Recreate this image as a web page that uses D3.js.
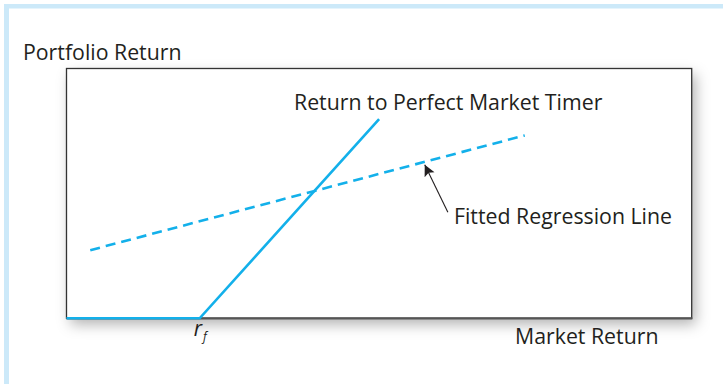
<!DOCTYPE html>
<html><head><meta charset="utf-8">
<script src="https://cdn.jsdelivr.net/npm/d3@7"></script>
<style>html,body{margin:0;padding:0;background:#fff;}svg{display:block;}</style>
</head><body>
<script>
// Data (arbitrary units: x = market return, y = portfolio return)
const riskFree = 2.13;
const perfectTimerX = [0, riskFree, 5.0];
const perfectTimerY = [0, 0, 7.98];
const regressionX = [0.38, 7.33];
const regressionY = [2.73, 7.33];
const arrowFrom = [6.1, 4.25];
const arrowTo = [5.73, 6.15];
const labels = {
  yTitle: "Portfolio Return",
  xTitle: "Market Return",
  timer: "Return to Perfect Market Timer",
  regression: "Fitted Regression Line"
};

const W = 723, H = 384;
const box = {left: 66.5, top: 68.5, right: 691.7, bottom: 318.3};
const x = d3.scaleLinear().domain([0, 10]).range([box.left, box.right]);
const y = d3.scaleLinear().domain([0, 10]).range([box.bottom, box.bottom - 249.5]);

const svg = d3.select("body").append("svg").attr("width", W).attr("height", H);
const defs = svg.append("defs");
const f = defs.append("filter").attr("id", "sh").attr("x", "-10%").attr("y", "-20%").attr("width", "130%").attr("height", "150%");
f.append("feDropShadow").attr("dx", 4).attr("dy", 6).attr("stdDeviation", 7).attr("flood-color", "#000").attr("flood-opacity", 0.3);
defs.append("marker").attr("id", "ah").attr("viewBox", "0 0 10 10").attr("refX", 10).attr("refY", 5)
  .attr("markerWidth", 15).attr("markerHeight", 11).attr("markerUnits", "userSpaceOnUse").attr("orient", "auto")
  .append("path").attr("d", "M0,0 L10,5 L0,10 L2,5 Z").attr("fill", "#231f20");

// frame bands
svg.append("rect").attr("x", 4).attr("y", 4).attr("width", W - 4).attr("height", 4.5).attr("fill", "#cce9f9");
svg.append("rect").attr("x", 4).attr("y", 4).attr("width", 5).attr("height", H - 4).attr("fill", "#cce9f9");

// plot box
svg.append("rect").attr("x", box.left).attr("y", box.top).attr("width", box.right - box.left).attr("height", box.bottom - box.top)
  .attr("fill", "#fff").attr("filter", "url(#sh)");
svg.append("rect").attr("x", box.left).attr("y", box.top).attr("width", box.right - box.left).attr("height", box.bottom - box.top)
  .attr("fill", "none").attr("stroke", "#333").attr("stroke-width", 1.3);
svg.append("line").attr("x1", box.left).attr("x2", box.right + 0.6).attr("y1", box.bottom).attr("y2", box.bottom)
  .attr("stroke", "#555", ).attr("stroke-width", 2.2);

const line = d3.line().x(d => x(d[0])).y(d => y(d[1]));
const blue = "#13b0ea";

// perfect timer
svg.append("path").datum(perfectTimerX.map((v, i) => [v, perfectTimerY[i]]))
  .attr("d", line).attr("fill", "none").attr("stroke", blue).attr("stroke-width", 2.6);
// regression
svg.append("path").datum(regressionX.map((v, i) => [v, regressionY[i]]))
  .attr("d", line).attr("fill", "none").attr("stroke", blue).attr("stroke-width", 2.6).attr("stroke-dasharray", "10,6");
// arrow
svg.append("line").attr("x1", x(arrowFrom[0])).attr("y1", y(arrowFrom[1])).attr("x2", x(arrowTo[0])).attr("y2", y(arrowTo[1]))
  .attr("stroke", "#231f20").attr("stroke-width", 1.1).attr("marker-end", "url(#ah)");

const font = "'Open Sans', sans-serif";
const fs = 21.3;
const txt = (t, tx, ty, size) => svg.append("text").attr("x", tx).attr("y", ty).attr("font-family", font)
  .attr("font-size", size).attr("fill", "#231f20").text(t);
txt(labels.yTitle, 23, 60, fs);
txt(labels.timer, 294, 110, fs);
txt(labels.regression, 454, 224, fs);
txt(labels.xTitle, 515, 344, fs);
const rf = svg.append("text").attr("x", x(riskFree) - 6).attr("y", 336).attr("font-family", font).attr("font-size", 21)
  .attr("font-style", "italic").attr("fill", "#231f20");
rf.append("tspan").text("r");
rf.append("tspan").attr("font-size", 12).attr("dy", 5).attr("dx", 1).text("f");
</script>
</body></html>
